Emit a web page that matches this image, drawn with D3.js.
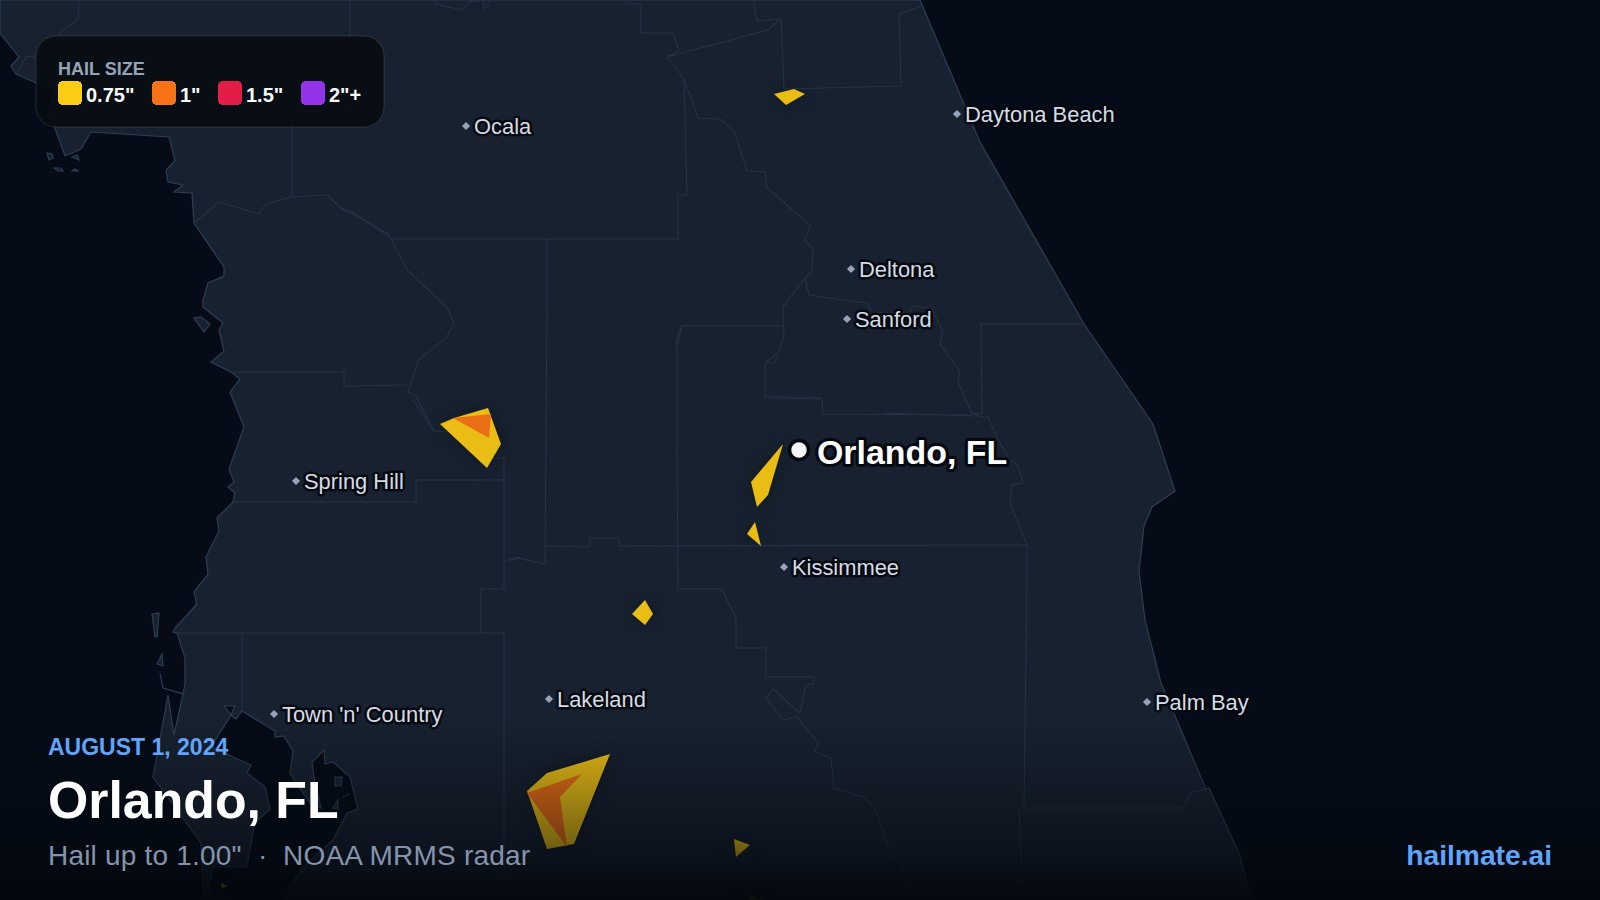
<!DOCTYPE html>
<html>
<head>
<meta charset="utf-8">
<style>
  html, body { margin: 0; padding: 0; background: #050c17; }
  svg { display: block; }
  text { font-family: "Liberation Sans", Arial, sans-serif; }
</style>
<script src="https://cdn.jsdelivr.net/npm/d3@7/dist/d3.min.js"></script>
</head>
<body>
<script>
var landOutline = [[0,0],[920,0],[980,142],[1084,324],[1153,424],[1175,491],[1152,507],[1144,526],[1139,571],[1145,620],[1161,683],[1206,789],[1209,788],[1239,853],[1252,900],
  [204,900],[202,867],[201,843],[153,777],[168,695],[174,735],[183,694],[163,688],[160,673],[163,688],[183,694],[185,683],[185,658],[177,633],[173,632],[176,627],[196,605],[196,600],[194,592],[208,574],[206,557],[219,531],[217,518],[233,502],[235,493],[228,487],[234,482],[229,469],[244,427],[230,392],[240,379],[231,372],[211,362],[224,351],[219,330],[223,323],[203,307],[203,300],[208,283],[224,276],[224,267],[194,223],[192,193],[174,192],[183,185],[168,182],[166,170],[175,161],[169,137],[91,132],[81,149],[65,156],[49,112],[54,91],[16,74],[11,66],[19,57],[0,33]];

var tampaBay = [[224,706],[235,706],[231,715],[236,719],[242,711],[275,731],[275,737],[284,736],[293,751],[290,773],[295,782],[311,804],[321,808],[314,777],[312,762],[324,750],[325,764],[333,762],[350,777],[358,809],[347,813],[333,840],[303,867],[282,900],[214,900],[209,887],[213,867],[247,867],[253,833],[255,823],[270,809],[265,787],[247,773],[251,765],[211,747],[231,715]];

var bayIslands = [
  [[335,777],[342,777],[341,786],[335,786]],
  [[333,808],[338,800],[338,809]]
];

var seaIslands = [
  [[47,153],[52,154],[53,158],[49,160]],
  [[72,157],[77,155],[79,160]],
  [[54,168],[61,168],[63,171],[58,171]],
  [[72,171],[75,169],[78,171]],
  [[194,318],[201,317],[210,324],[204,332]],
  [[152,614],[159,613],[157,637],[155,637]],
  [[157,664],[162,654],[163,666]]
];

var countyLines = [
  [[79,0],[78,19],[60,33],[61,43],[43,55],[26,57],[16,74]],
  [[350,0],[350,112],[292,112],[292,197]],
  [[194,223],[219,202],[259,214],[266,204],[292,197],[327,195],[345,212],[349,210],[390,237],[407,270],[439,300],[447,307],[454,323],[446,338],[418,360],[410,387],[408,392],[415,395],[434,431],[449,432]],
  [[327,195],[340,207],[390,235]],
  [[390,239],[678,239],[678,195],[687,195],[684,79]],
  [[231,372],[344,372],[344,386],[410,385]],
  [[413,400],[434,432]],
  [[490,458],[504,458],[504,589],[481,589],[481,633]],
  [[234,502],[416,502],[416,480],[504,480]],
  [[504,562],[517,557],[533,562],[545,564],[547,300],[547,239]],
  [[512,560],[519,558],[533,561]],
  [[546,546],[589,547],[590,538],[619,538],[620,546],[1027,545],[1010,503],[1012,485],[1023,483],[1017,464],[1009,460],[997,437],[988,417],[980,417],[971,412],[958,382],[960,372],[940,344],[943,332],[932,309],[914,306],[909,313],[871,312],[868,303],[842,300],[809,295],[805,278]],
  [[971,414],[982,413],[981,324],[1084,324]],
  [[788,300],[783,307],[784,335],[779,352],[765,363],[765,398],[822,399],[823,414],[971,415]],
  [[765,396],[822,398]],
  [[885,413],[975,416]],
  [[767,363],[775,362],[777,356]],
  [[784,326],[682,326],[677,337],[677,443],[678,589],[722,589],[727,600],[736,618],[736,648],[766,648],[766,677],[814,677],[814,684],[806,685],[800,713],[773,689],[766,699],[784,720],[797,717],[819,744],[814,751],[831,758],[834,788],[864,797],[875,809],[892,856],[902,864],[909,897]],
  [[682,326],[677,345]],
  [[626,0],[626,4],[641,4],[641,33],[673,33],[679,51],[667,57],[768,30],[780,19],[757,21],[753,0]],
  [[781,19],[784,89],[901,86],[899,14],[921,6]],
  [[667,57],[684,79],[698,118],[720,119],[734,131],[747,171],[765,172],[767,188],[811,226],[804,240],[813,249],[812,271],[805,278],[788,300]],
  [[177,633],[504,633],[504,900]],
  [[242,633],[242,711]],
  [[1027,545],[1027,572],[1024,807]],
  [[1019,808],[1183,808],[1191,792],[1206,790]],
  [[1019,808],[1023,897]],
  [[435,0],[435,4],[462,10],[469,2],[483,0],[484,9],[491,0]],
  [[342,797],[350,794]]
];

// hail swaths, tier = index into the legend colours
var hailTier = [0, 0, 1, 0, 0, 0, 0, 1, 0, 0, 0];
var hailSwaths = [
  [[774,94],[794,89],[805,94],[786,105]],
  [[440,424],[454,418],[488,408],[501,444],[487,468]],
  [[453,418],[491,414],[489,438]],
  [[783,444],[751,482],[757,507],[768,495]],
  [[755,522],[747,534],[761,546]],
  [[645,600],[653,614],[645,625],[632,614]],
  [[610,754],[547,773],[527,791],[547,849],[574,844]],
  [[582,774],[560,797],[567,847],[527,793]],
  [[734,839],[750,845],[736,857]],
  [[221,883],[227,886],[222,889]],
  [[749,895],[765,900],[749,900]]
];
var hailFill = ["#eabd14", "#e96e16"];

var legendTitle = "HAIL SIZE";
var legendLabels = ['0.75"', '1"', '1.5"', '2"+'];
var legendColors = ["#fdcd15", "#f97316", "#e11d48", "#9333ea"];
var legendSwatchX = [58, 152, 218, 301];

var cityNames = ["Ocala", "Daytona Beach", "Deltona", "Sanford", "Spring Hill", "Kissimmee", "Town 'n' Country", "Lakeland", "Palm Bay"];
var cityX = [466, 957, 851, 847, 296, 784, 274, 549, 1147];
var cityY = [126, 114, 269, 319, 481, 567, 714, 699, 702];

var mainCity = "Orlando, FL";
var mainCityAt = [799, 450];

var W = 1600, H = 900;
var x = d3.scaleLinear().domain([0, 1600]).range([0, W]);
var y = d3.scaleLinear().domain([0, 900]).range([0, H]);

var line = d3.line().x(function(d) { return x(d[0]); }).y(function(d) { return y(d[1]); });
function closed(d) { return line(d) + "Z"; }

var svg = d3.select("body").append("svg").attr("width", W).attr("height", H);

var defs = svg.append("defs");
var fade = defs.append("linearGradient").attr("id", "fade").attr("x1", 0).attr("x2", 0).attr("y1", 0).attr("y2", 1);
fade.append("stop").attr("offset", 0).attr("stop-color", "#03070e").attr("stop-opacity", 0);
fade.append("stop").attr("offset", 0.69).attr("stop-color", "#03070e").attr("stop-opacity", 0.5);
fade.append("stop").attr("offset", 1).attr("stop-color", "#03070e").attr("stop-opacity", 0.97);

var landFill = "#17212f", seaFill = "#050c17", coast = "#2f3e52", county = "#263345";

svg.append("rect").attr("width", W).attr("height", H).attr("fill", seaFill);

var map = svg.append("g");
map.append("path").datum(landOutline).attr("d", closed).attr("fill", landFill).attr("stroke", coast).attr("stroke-width", 1.2);
map.append("path").datum(tampaBay).attr("d", closed).attr("fill", seaFill).attr("stroke", coast).attr("stroke-width", 1.2);

map.selectAll("path.island").data(seaIslands.concat(bayIslands)).enter().append("path")
    .attr("class", "island")
    .attr("d", closed)
    .attr("fill", landFill)
    .attr("stroke", coast)
    .attr("stroke-width", 1.2);

map.selectAll("path.county").data(countyLines).enter().append("path")
    .attr("class", "county")
    .attr("d", line)
    .attr("fill", "none")
    .attr("stroke", county)
    .attr("stroke-width", 1.1);

// soft shadow round each swath
svg.append("g").style("filter", "drop-shadow(0 0 8px rgba(0,0,0,0.35))")
  .selectAll("path").data(hailSwaths).enter().append("path")
    .attr("d", closed)
    .attr("fill", function(d, i) { return hailFill[hailTier[i]]; });

svg.append("rect").attr("x", 0).attr("y", 720).attr("width", W).attr("height", 180).attr("fill", "url(#fade)");

// city markers, small diamonds
var halo = "rgba(4,7,12,0.88)";
var diamond = d3.symbol().type(d3.symbolSquare).size(34);
var city = svg.append("g").selectAll("g").data(cityNames).enter().append("g");
city.append("path")
    .attr("d", diamond)
    .attr("transform", function(d, i) { return "translate(" + x(cityX[i]) + "," + y(cityY[i]) + ") rotate(45)"; })
    .attr("fill", "#94a3b8");
city.append("text")
    .attr("x", function(d, i) { return x(cityX[i]) + 8; })
    .attr("y", function(d, i) { return y(cityY[i]) + 8; })
    .attr("font-size", 21.9)
    .attr("fill", "#d5dce8")
    .attr("stroke", halo)
    .attr("stroke-width", 5)
    .attr("stroke-linejoin", "round")
    .style("paint-order", "stroke")
    .text(function(d) { return d; });

svg.append("circle")
    .attr("cx", x(mainCityAt[0]))
    .attr("cy", y(mainCityAt[1]))
    .attr("r", 9.5)
    .attr("fill", "#f1f5f9")
    .attr("stroke", "#05080e")
    .attr("stroke-width", 3.5);
svg.append("text")
    .attr("x", x(mainCityAt[0]) + 18)
    .attr("y", y(mainCityAt[1]) + 13.5)
    .attr("font-size", 33.9)
    .attr("font-weight", 700)
    .attr("fill", "#ffffff")
    .attr("stroke", "#05080e")
    .attr("stroke-width", 6)
    .attr("stroke-linejoin", "round")
    .style("paint-order", "stroke")
    .text(mainCity);

// legend panel
var legend = svg.append("g");
legend.append("rect")
    .attr("x", 36).attr("y", 36).attr("width", 348).attr("height", 91).attr("rx", 20)
    .attr("fill", "rgba(8,11,18,0.9)")
    .attr("stroke", "rgba(255,255,255,0.12)");
legend.append("text")
    .attr("x", 58).attr("y", 75)
    .attr("font-size", 18).attr("font-weight", 700)
    .attr("fill", "#94a3b8")
    .text(legendTitle);
legend.selectAll("rect.swatch").data(legendLabels).enter().append("rect")
    .attr("class", "swatch")
    .attr("x", function(d, i) { return legendSwatchX[i]; })
    .attr("y", 81).attr("width", 24).attr("height", 24).attr("rx", 5)
    .attr("shape-rendering", "crispEdges")
    .attr("fill", function(d, i) { return legendColors[i]; });
legend.selectAll("text.lab").data(legendLabels).enter().append("text")
    .attr("class", "lab")
    .attr("x", function(d, i) { return legendSwatchX[i] + 28; })
    .attr("y", 102)
    .attr("font-size", 20).attr("font-weight", 700)
    .attr("fill", "#f8fafc")
    .text(function(d) { return d; });

// footer text
svg.append("text").attr("x", 48).attr("y", 754.5)
    .attr("font-size", 23).attr("font-weight", 700)
    .attr("fill", "#60a5fa").text("AUGUST 1, 2024");
svg.append("text").attr("x", 48).attr("y", 817.5)
    .attr("font-size", 51.8).attr("font-weight", 700)
    .attr("fill", "#ffffff").text("Orlando, FL");
svg.append("text").attr("x", 48).attr("y", 865)
    .attr("font-size", 28).attr("letter-spacing", 0.2)
    .attr("fill", "#8494ab").text('Hail up to 1.00"');
svg.append("text").attr("x", 258).attr("y", 865)
    .attr("font-size", 28).attr("fill", "#8494ab").text("·");
svg.append("text").attr("x", 283).attr("y", 865)
    .attr("font-size", 28).attr("letter-spacing", 0.2)
    .attr("fill", "#8494ab").text("NOAA MRMS radar");
svg.append("text").attr("x", 1552).attr("y", 865)
    .attr("text-anchor", "end")
    .attr("font-size", 28.2).attr("font-weight", 700)
    .attr("fill", "#60a5fa").text("hailmate.ai");
</script>
</body>
</html>
